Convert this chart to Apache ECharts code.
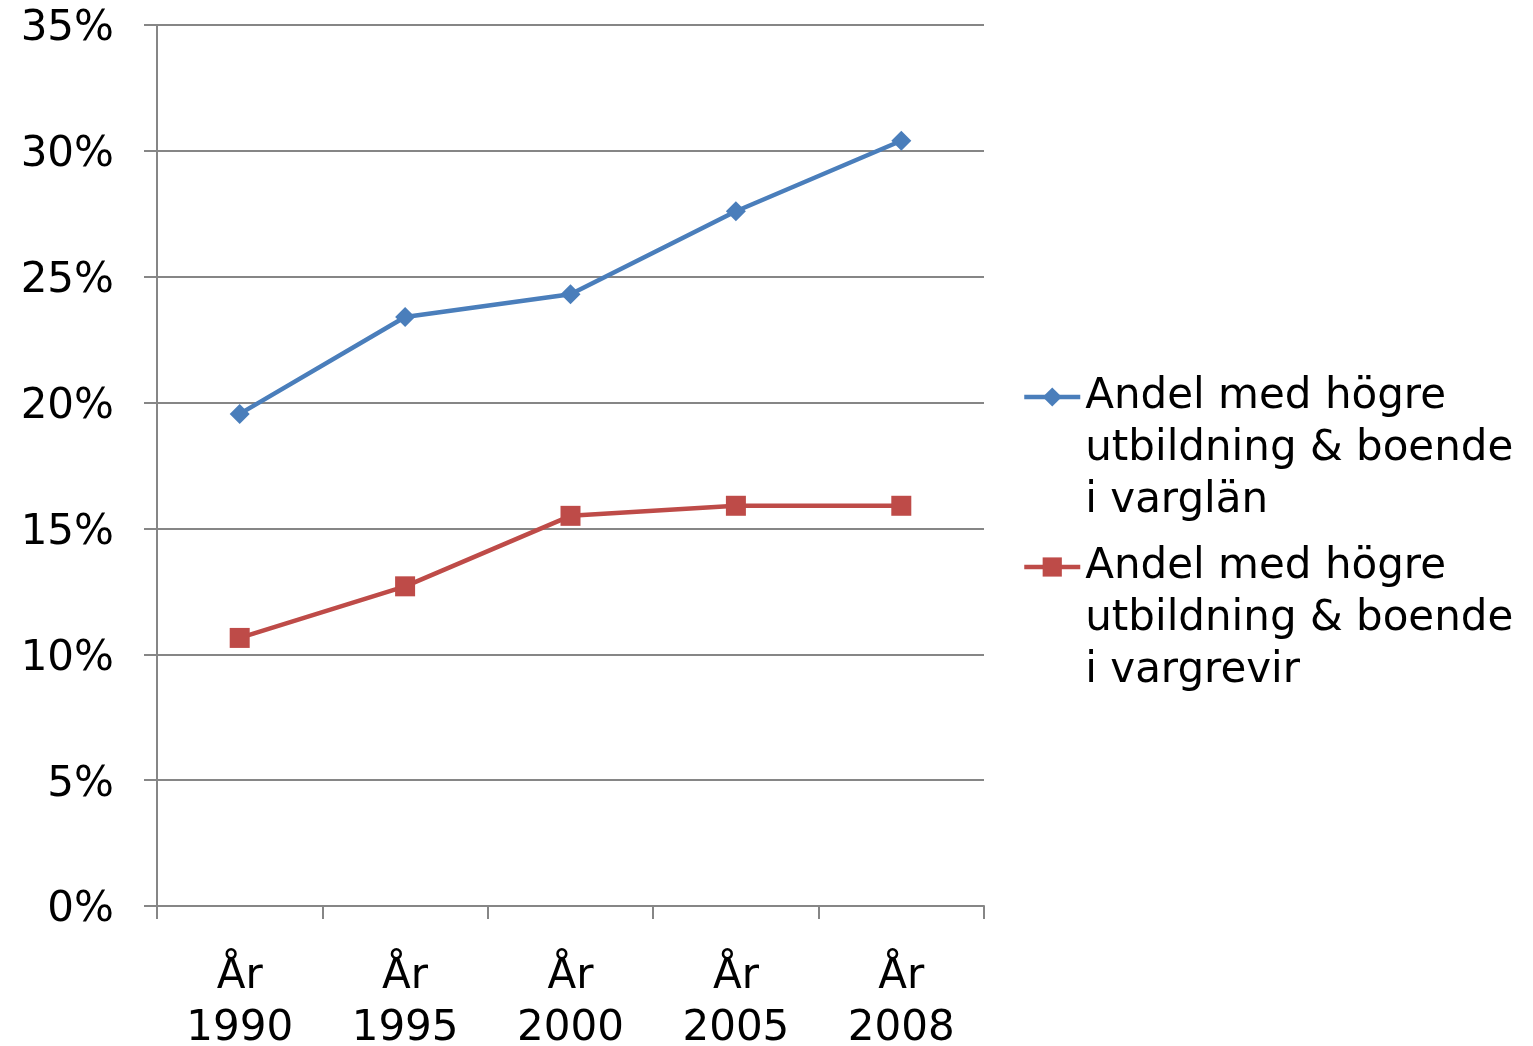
<!DOCTYPE html>
<html><head><meta charset="utf-8">
<script src="https://cdn.jsdelivr.net/npm/echarts@6/dist/echarts.min.js"></script>
<style>html,body{margin:0;padding:0;background:#fff}#c{width:1533px;height:1046px}</style>
</head><body><div id="c"></div>
<script>
const categories = ['År\n1990', 'År\n1995', 'År\n2000', 'År\n2005', 'År\n2008'];
const seriesNames = ['Andel med högre\nutbildning & boende\ni varglän', 'Andel med högre\nutbildning & boende\ni vargrevir'];
const varglan = [0.1955, 0.234, 0.243, 0.276, 0.304];
const vargrevir = [0.1065, 0.127, 0.155, 0.159, 0.159];
const yTicks = { min: 0, max: 0.35, interval: 0.05 };

const font = 'DejaVu Sans';
const fs = 42;
const axisGray = '#868686';
const blue = '#4A7EBB', red = '#BE4B48';
const chart = echarts.init(document.getElementById('c'), null, { renderer: 'canvas' });
chart.setOption({
  animation: false,
  backgroundColor: '#fff',
  grid: { left: 157, right: 549, top: 25, bottom: 140, containLabel: false, outerBoundsMode: 'none' },
  legend: {
    orient: 'vertical', left: 1022, top: 267, padding: 0, itemGap: -90,
    itemWidth: 56, itemHeight: 24,
    formatter: n => '\n\n' + n,
    textStyle: { fontFamily: font, fontSize: fs, color: '#000', lineHeight: 52 },
    data: [
      { name: seriesNames[0], lineStyle: { color: blue, width: 4.5 }, itemStyle: { color: blue } },
      { name: seriesNames[1], lineStyle: { color: red, width: 4.5 }, itemStyle: { color: red } }
    ]
  },
  xAxis: {
    type: 'category', data: categories, boundaryGap: true,
    axisLine: { lineStyle: { color: axisGray, width: 2 } },
    axisTick: { show: true, length: 13, lineStyle: { color: axisGray, width: 2 } },
    axisLabel: { fontFamily: font, fontSize: fs, color: '#000', lineHeight: 52, margin: 45, interval: 0 }
  },
  yAxis: {
    type: 'value', min: yTicks.min, max: yTicks.max, interval: yTicks.interval,
    axisLine: { show: true, lineStyle: { color: axisGray, width: 2 } },
    axisTick: { show: true, inside: false, length: 13, lineStyle: { color: axisGray, width: 2 } },
    splitLine: { show: true, lineStyle: { color: axisGray, width: 2 } },
    axisLabel: { fontFamily: font, fontSize: fs, color: '#000', margin: 43,
      formatter: v => '{p|' + Math.round(v * 100) + '%}',
      rich: { p: { fontFamily: font, fontSize: fs, color: '#000', padding: [9, 0, 0, 0] } } }
  },
  series: [
    { name: seriesNames[0], type: 'line', data: varglan, symbol: 'diamond', symbolSize: 20,
      lineStyle: { color: blue, width: 4.5 }, itemStyle: { color: blue } },
    { name: seriesNames[1], type: 'line', data: vargrevir, symbol: 'rect', symbolSize: 20,
      lineStyle: { color: red, width: 4.5 }, itemStyle: { color: red } }
  ]
});
</script></body></html>
